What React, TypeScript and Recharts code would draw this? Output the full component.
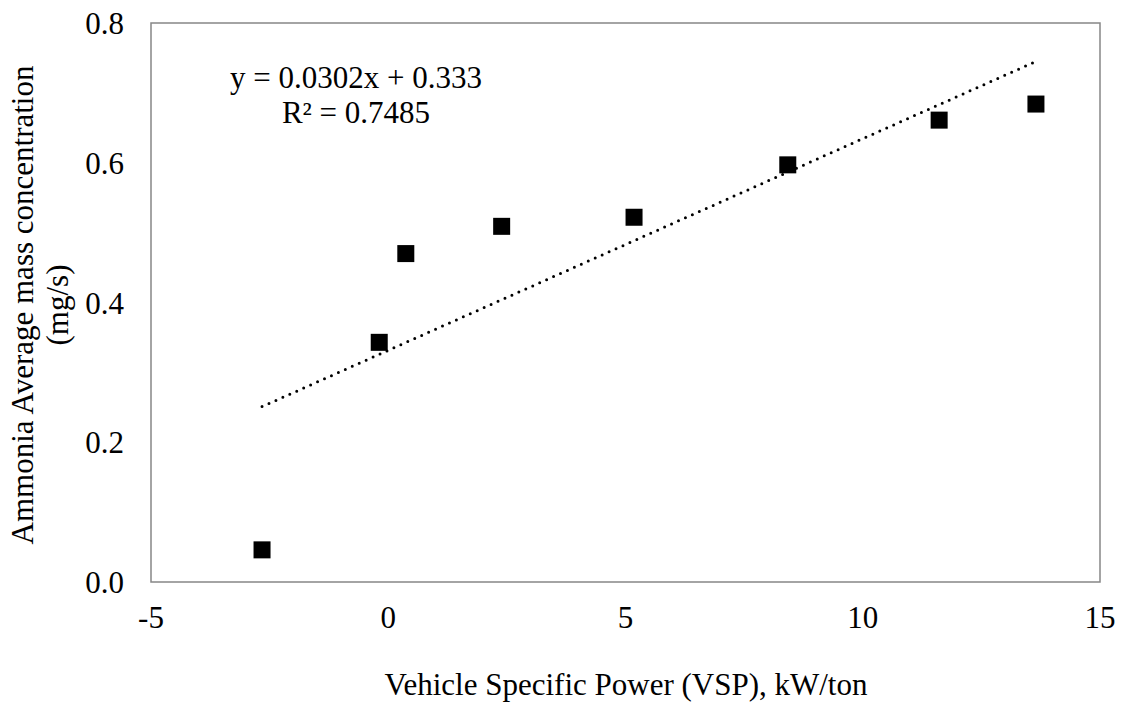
import React from "react";
import { ScatterChart, Scatter, XAxis, YAxis, ReferenceArea } from "recharts";

// VSP bins (kW/ton) and the average NH3 mass rate
const vsp = [-2.66, -0.19, 0.37, 2.39, 5.18, 8.42, 11.61, 13.65];
const nh3 = [0.046, 0.343, 0.47, 0.509, 0.522, 0.597, 0.661, 0.684];

// end points of the Excel linear trendline, as drawn
const trendX = [-2.66, 13.65];
const trendY = [0.251, 0.745];

const xTicks = [-5, 0, 5, 10, 15];
const yTicks = [0, 0.2, 0.4, 0.6, 0.8];

const equation = "y = 0.0302x + 0.333";
const rSquared = "R² = 0.7485";
const xTitle = "Vehicle Specific Power (VSP), kW/ton";
const yTitle = ["Ammonia Average mass concentration", "(mg/s)"];

const points = vsp.map((x, i) => ({ x, y: nh3[i] }));
const trend = trendX.map((x, i) => ({ x, y: trendY[i] }));

const FONT = "Liberation Serif, Times New Roman, serif";
const FS = 31;
const textStyle = { fontFamily: FONT, fontSize: FS };

const Square = (props: any) => {
  const { cx, cy } = props;
  if (cx == null || cy == null) return null;
  return <rect x={cx - 8.5} y={cy - 8.5} width={17} height={17} fill="#000" />;
};

export default function App() {
  return (
    <div style={{ position: "absolute", left: 0, top: 0, width: 1122, height: 705, background: "#fff", fontFamily: FONT }}>
      <ScatterChart
        width={1122}
        height={705}
        margin={{ top: 23, right: 22, bottom: 0, left: 0 }}
        style={{ fontFamily: FONT }}
      >
        <XAxis
          type="number"
          dataKey="x"
          domain={[-5, 15]}
          ticks={xTicks}
          height={123}
          tickLine={false}
          tickSize={0}
          tickMargin={24}
          axisLine={false}
          tick={{ fill: "#000", fontSize: FS, style: textStyle }}
        />
        <YAxis
          type="number"
          dataKey="y"
          domain={[0, 0.8]}
          ticks={yTicks}
          width={151}
          tickLine={false}
          tickSize={0}
          tickMargin={27}
          axisLine={false}
          tickFormatter={(v: number) => v.toFixed(1)}
          tick={{ fill: "#000", fontSize: FS, style: textStyle }}
        />
        <ReferenceArea
          x1={xTicks[0]}
          x2={xTicks[xTicks.length - 1]}
          y1={yTicks[0]}
          y2={yTicks[yTicks.length - 1]}
          fill="none"
          stroke="#878787"
          strokeWidth={1.5}
        />
        <Scatter
          data={trend}
          isAnimationActive={false}
          line={{ stroke: "#000", strokeWidth: 3, strokeDasharray: "0 7.6", strokeLinecap: "round" }}
          shape={() => null}
        />
        <Scatter data={points} isAnimationActive={false} shape={Square} />
      </ScatterChart>
      <svg
        width={1122}
        height={705}
        style={{ position: "absolute", left: 0, top: 0, pointerEvents: "none", ...textStyle }}
        fill="#000"
      >
        <text x={356} y={88} textAnchor="middle">{equation}</text>
        <text x={356} y={123} textAnchor="middle">{rSquared}</text>
        <text x={626} y={695} textAnchor="middle">{xTitle}</text>
        <text transform="translate(33, 305) rotate(-90)" textAnchor="middle">{yTitle[0]}</text>
        <text transform="translate(68, 305) rotate(-90)" textAnchor="middle">{yTitle[1]}</text>
      </svg>
    </div>
  );
}
